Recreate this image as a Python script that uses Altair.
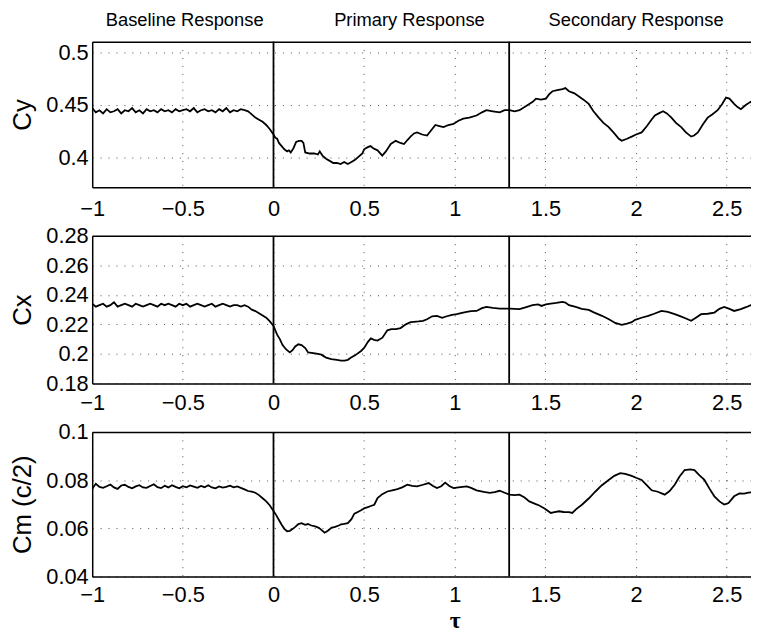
import altair as alt
import pandas as pd

# ---- data (tau, value) ----
cy_points = [
    (-1.00, 0.447), (-0.98, 0.443), (-0.96, 0.445), (-0.94, 0.442), (-0.92, 0.446), (-0.90, 0.443),
    (-0.88, 0.444), (-0.86, 0.446), (-0.84, 0.442), (-0.82, 0.445), (-0.80, 0.444), (-0.78, 0.447),
    (-0.76, 0.443), (-0.74, 0.445), (-0.72, 0.442), (-0.70, 0.446), (-0.68, 0.444), (-0.66, 0.445),
    (-0.64, 0.443), (-0.62, 0.446), (-0.60, 0.444), (-0.58, 0.445), (-0.56, 0.443), (-0.54, 0.446),
    (-0.52, 0.444), (-0.50, 0.445), (-0.48, 0.446), (-0.46, 0.444), (-0.44, 0.447), (-0.42, 0.443),
    (-0.40, 0.445), (-0.38, 0.446), (-0.36, 0.444), (-0.34, 0.445), (-0.32, 0.443), (-0.30, 0.446),
    (-0.28, 0.444), (-0.26, 0.447), (-0.24, 0.443), (-0.22, 0.445), (-0.20, 0.444), (-0.18, 0.446),
    (-0.16, 0.445), (-0.14, 0.444), (-0.12, 0.441), (-0.10, 0.438), (-0.08, 0.436), (-0.06, 0.434),
    (-0.04, 0.431), (-0.02, 0.427), (0.00, 0.422), (0.01, 0.419), (0.02, 0.418), (0.03, 0.414),
    (0.045, 0.411), (0.06, 0.408), (0.075, 0.406), (0.085, 0.407), (0.095, 0.405), (0.11, 0.409),
    (0.125, 0.415), (0.14, 0.416), (0.155, 0.416), (0.165, 0.414), (0.175, 0.405), (0.20, 0.404),
    (0.225, 0.404), (0.245, 0.403), (0.255, 0.406), (0.27, 0.402), (0.29, 0.399), (0.31, 0.397),
    (0.33, 0.395), (0.35, 0.395), (0.37, 0.394), (0.39, 0.396), (0.41, 0.394), (0.43, 0.396),
    (0.45, 0.398), (0.47, 0.401), (0.49, 0.404), (0.50, 0.408), (0.52, 0.410), (0.535, 0.411),
    (0.55, 0.409), (0.574, 0.407), (0.60, 0.402), (0.62, 0.406), (0.647, 0.413), (0.674, 0.416),
    (0.70, 0.414), (0.72, 0.413), (0.74, 0.417), (0.756, 0.420), (0.775, 0.423), (0.792, 0.424),
    (0.82, 0.422), (0.847, 0.421), (0.87, 0.426), (0.893, 0.431), (0.915, 0.430), (0.938, 0.429),
    (0.965, 0.431), (0.993, 0.432), (1.02, 0.435), (1.047, 0.437), (1.08, 0.438), (1.12, 0.440),
    (1.15, 0.443), (1.175, 0.445), (1.21, 0.444), (1.248, 0.443), (1.275, 0.445), (1.302, 0.445),
    (1.33, 0.444), (1.357, 0.445), (1.385, 0.448), (1.411, 0.451), (1.43, 0.453), (1.448, 0.456),
    (1.475, 0.455), (1.503, 0.456), (1.52, 0.460), (1.539, 0.463), (1.565, 0.464), (1.594, 0.465),
    (1.61, 0.466), (1.63, 0.463), (1.66, 0.461), (1.685, 0.458), (1.71, 0.455), (1.739, 0.451),
    (1.765, 0.444), (1.794, 0.438), (1.82, 0.433), (1.849, 0.429), (1.88, 0.423), (1.905, 0.418),
    (1.921, 0.416), (1.95, 0.418), (1.976, 0.420), (2.00, 0.422), (2.031, 0.424), (2.06, 0.430),
    (2.085, 0.436), (2.104, 0.440), (2.125, 0.442), (2.149, 0.444), (2.17, 0.442), (2.195, 0.438),
    (2.22, 0.433), (2.249, 0.429), (2.275, 0.424), (2.304, 0.420), (2.32, 0.421), (2.341, 0.424),
    (2.37, 0.432), (2.395, 0.438), (2.42, 0.441), (2.45, 0.445), (2.475, 0.451), (2.496, 0.457),
    (2.515, 0.456), (2.541, 0.451), (2.56, 0.448), (2.578, 0.446), (2.605, 0.450), (2.632, 0.453),
    (2.645, 0.451),
]

cx_points = [
    (-1.00, 0.234), (-0.98, 0.232), (-0.96, 0.233), (-0.94, 0.234), (-0.92, 0.232), (-0.90, 0.233),
    (-0.88, 0.235), (-0.86, 0.232), (-0.84, 0.233), (-0.82, 0.234), (-0.80, 0.233), (-0.78, 0.232),
    (-0.76, 0.234), (-0.74, 0.233), (-0.72, 0.232), (-0.70, 0.233), (-0.68, 0.234), (-0.66, 0.233),
    (-0.64, 0.232), (-0.62, 0.234), (-0.60, 0.233), (-0.58, 0.234), (-0.56, 0.233), (-0.54, 0.232),
    (-0.52, 0.234), (-0.50, 0.233), (-0.48, 0.234), (-0.46, 0.232), (-0.44, 0.233), (-0.42, 0.234),
    (-0.40, 0.233), (-0.38, 0.232), (-0.36, 0.233), (-0.34, 0.234), (-0.32, 0.232), (-0.30, 0.233),
    (-0.28, 0.234), (-0.26, 0.233), (-0.24, 0.232), (-0.22, 0.233), (-0.20, 0.233), (-0.18, 0.232),
    (-0.16, 0.233), (-0.14, 0.232), (-0.12, 0.230), (-0.10, 0.229), (-0.08, 0.2275), (-0.06, 0.226),
    (-0.04, 0.2245), (-0.02, 0.222), (0.00, 0.219), (0.01, 0.216), (0.02, 0.213), (0.035, 0.210),
    (0.05, 0.206), (0.07, 0.203), (0.09, 0.201), (0.105, 0.2025), (0.12, 0.205), (0.137, 0.2065),
    (0.155, 0.206), (0.175, 0.204), (0.191, 0.201), (0.22, 0.2005), (0.245, 0.200), (0.264, 0.1995),
    (0.29, 0.1975), (0.319, 0.1965), (0.35, 0.196), (0.372, 0.1955), (0.392, 0.1955), (0.41, 0.196),
    (0.428, 0.1975), (0.45, 0.199), (0.483, 0.202), (0.50, 0.204), (0.52, 0.208), (0.537, 0.2105),
    (0.555, 0.2095), (0.574, 0.209), (0.601, 0.211), (0.628, 0.216), (0.65, 0.2168), (0.675, 0.2168),
    (0.701, 0.2175), (0.73, 0.220), (0.756, 0.2215), (0.774, 0.2217), (0.80, 0.222), (0.825, 0.2224),
    (0.847, 0.2235), (0.875, 0.2255), (0.902, 0.2258), (0.93, 0.2245), (0.956, 0.2255), (0.985, 0.2265),
    (1.011, 0.2269), (1.04, 0.2278), (1.066, 0.2285), (1.09, 0.229), (1.12, 0.2291), (1.15, 0.231),
    (1.175, 0.2318), (1.21, 0.2312), (1.248, 0.2307), (1.275, 0.2307), (1.302, 0.2307), (1.33, 0.2305),
    (1.357, 0.2303), (1.39, 0.2315), (1.429, 0.233), (1.46, 0.2335), (1.478, 0.2325), (1.503, 0.2336),
    (1.53, 0.234), (1.56, 0.2345), (1.594, 0.2352), (1.61, 0.2348), (1.63, 0.233), (1.667, 0.2318),
    (1.70, 0.2305), (1.739, 0.2298), (1.77, 0.228), (1.812, 0.2258), (1.85, 0.2235), (1.885, 0.221),
    (1.921, 0.2197), (1.95, 0.2205), (1.976, 0.2215), (1.995, 0.2231), (2.03, 0.2245), (2.067, 0.2258),
    (2.10, 0.2272), (2.14, 0.2291), (2.175, 0.2285), (2.213, 0.2269), (2.25, 0.2252), (2.285, 0.2235),
    (2.304, 0.2224), (2.33, 0.2245), (2.359, 0.2269), (2.395, 0.2272), (2.432, 0.228), (2.46, 0.2305),
    (2.486, 0.2318), (2.515, 0.2305), (2.541, 0.2291), (2.578, 0.2303), (2.61, 0.2318), (2.632, 0.233),
    (2.645, 0.2325),
]

cm_points = [
    (-1.00, 0.0765), (-0.98, 0.0785), (-0.96, 0.0772), (-0.94, 0.0768), (-0.92, 0.0775), (-0.90, 0.0782),
    (-0.88, 0.0770), (-0.86, 0.0764), (-0.84, 0.0778), (-0.82, 0.0781), (-0.80, 0.0772), (-0.78, 0.0766),
    (-0.76, 0.0774), (-0.74, 0.0779), (-0.72, 0.0770), (-0.70, 0.0768), (-0.68, 0.0776), (-0.66, 0.0783),
    (-0.64, 0.0771), (-0.62, 0.0767), (-0.60, 0.0777), (-0.58, 0.0770), (-0.56, 0.0779), (-0.54, 0.0772),
    (-0.52, 0.0766), (-0.50, 0.0775), (-0.48, 0.0770), (-0.46, 0.0778), (-0.44, 0.0773), (-0.42, 0.0768),
    (-0.40, 0.0776), (-0.38, 0.0771), (-0.36, 0.0779), (-0.34, 0.0770), (-0.32, 0.0766), (-0.30, 0.0774),
    (-0.28, 0.0769), (-0.26, 0.0772), (-0.24, 0.0777), (-0.22, 0.0770), (-0.20, 0.0774), (-0.18, 0.0768),
    (-0.16, 0.0762), (-0.14, 0.0755), (-0.12, 0.0752), (-0.10, 0.0748), (-0.08, 0.0738), (-0.06, 0.0725),
    (-0.04, 0.0712), (-0.02, 0.0695), (0.00, 0.0672), (0.015, 0.0655), (0.03, 0.0635), (0.045, 0.0615),
    (0.06, 0.0598), (0.075, 0.0588), (0.09, 0.0590), (0.105, 0.0597), (0.12, 0.0606), (0.137, 0.0618),
    (0.155, 0.0622), (0.175, 0.0615), (0.19, 0.0618), (0.209, 0.0612), (0.23, 0.0608), (0.25, 0.0602),
    (0.264, 0.0594), (0.282, 0.0582), (0.30, 0.0590), (0.319, 0.0602), (0.34, 0.0606), (0.36, 0.0612),
    (0.373, 0.0617), (0.39, 0.0619), (0.41, 0.0622), (0.43, 0.0638), (0.446, 0.0661), (0.465, 0.0668),
    (0.483, 0.0675), (0.50, 0.0683), (0.52, 0.0688), (0.537, 0.0693), (0.556, 0.0698), (0.574, 0.0726),
    (0.60, 0.0742), (0.628, 0.0753), (0.655, 0.0758), (0.683, 0.0763), (0.71, 0.0770), (0.738, 0.0781),
    (0.765, 0.0776), (0.792, 0.0774), (0.82, 0.0780), (0.856, 0.0788), (0.88, 0.0776), (0.902, 0.0767),
    (0.925, 0.0775), (0.947, 0.0790), (0.97, 0.0776), (0.993, 0.0767), (1.02, 0.0770), (1.066, 0.0774),
    (1.09, 0.0768), (1.12, 0.0758), (1.16, 0.0751), (1.193, 0.0747), (1.22, 0.0750), (1.248, 0.0756),
    (1.275, 0.0748), (1.302, 0.0740), (1.33, 0.0738), (1.357, 0.0740), (1.385, 0.0728), (1.411, 0.0712),
    (1.44, 0.0703), (1.466, 0.0695), (1.49, 0.0685), (1.503, 0.0678), (1.53, 0.0664), (1.55, 0.0667),
    (1.575, 0.0671), (1.60, 0.0668), (1.63, 0.0667), (1.648, 0.0664), (1.67, 0.0680), (1.703, 0.0699),
    (1.74, 0.0725), (1.776, 0.0753), (1.81, 0.0778), (1.849, 0.0801), (1.88, 0.0818), (1.913, 0.0829),
    (1.94, 0.0826), (1.976, 0.0818), (2.00, 0.0810), (2.031, 0.0801), (2.06, 0.0778), (2.086, 0.0758),
    (2.12, 0.0752), (2.158, 0.0740), (2.185, 0.0755), (2.213, 0.0781), (2.24, 0.0815), (2.268, 0.0842),
    (2.30, 0.0845), (2.322, 0.0842), (2.35, 0.0820), (2.377, 0.0801), (2.405, 0.0765), (2.432, 0.0733),
    (2.46, 0.0712), (2.486, 0.0699), (2.51, 0.0705), (2.541, 0.0733), (2.57, 0.0745), (2.596, 0.0744),
    (2.62, 0.0748), (2.645, 0.0750),
]

x_ticks = [-1, -0.5, 0, 0.5, 1, 1.5, 2, 2.5]
cy_ticks = [0.4, 0.45, 0.5]
cx_ticks = [0.18, 0.2, 0.22, 0.24, 0.26, 0.28]
cm_ticks = [0.04, 0.06, 0.08, 0.1]
boundaries = [0, 1.3]
region_names = ["Baseline Response", "Primary Response", "Secondary Response"]
region_centers = [-0.49, 0.75, 2.0]

X_DOMAIN = [-1, 2.634]
W = 665
FONT = "Liberation Sans"


def panel(points, ytitle, ydomain, yticks, h, xpad, xtitle=None, top=False):
    df = pd.DataFrame(points, columns=["t", "v"])
    xs = alt.Scale(domain=X_DOMAIN, nice=False, zero=False)
    xaxis_kw = dict(values=x_ticks, format="~g", grid=True, labelFlush=False,
                    labelPadding=xpad, title=None)
    if xtitle:
        xaxis_kw.update(title=xtitle, titleX=366, titleFont="Liberation Serif",
                        titleFontSize=24, titleFontWeight="bold", titlePadding=3)
    line = alt.Chart(df).mark_line(color="black", strokeWidth=1.8, clip=True).encode(
        x=alt.X("t:Q", scale=xs, axis=alt.Axis(**xaxis_kw)),
        y=alt.Y("v:Q", scale=alt.Scale(domain=ydomain, nice=False, zero=False),
                axis=alt.Axis(values=yticks, format="~g", title=ytitle, grid=True,
                              labelFlush=False)),
    )
    rules = alt.Chart(pd.DataFrame({"t": boundaries})).mark_rule(
        color="black", strokeWidth=1.8).encode(
        x=alt.X("t:Q", scale=xs,
                axis=alt.Axis(orient="top", labels=False, ticks=False, grid=False,
                              domain=True, title=None)))
    layers = [line, rules]
    if top:
        txt = alt.Chart(pd.DataFrame({"t": region_centers, "name": region_names})).mark_text(
            font=FONT, fontSize=18.5, baseline="alphabetic", color="black").encode(
            x=alt.X("t:Q", scale=xs, axis=None),
            y=alt.value(-16),
            text="name:N")
        layers.append(txt)
    return alt.layer(*layers).resolve_axis(x="independent").properties(width=W, height=h)


p1 = panel(cy_points, "Cy", [0.372, 0.51], cy_ticks, 147, 12, top=True)
p2 = panel(cx_points, "Cx", [0.18, 0.28], cx_ticks, 149, 9)
p3 = panel(cm_points, "Cm (c/2)", [0.04, 0.1], cm_ticks, 146, 8, xtitle="τ")

chart = alt.vconcat(p1, p2, p3, spacing=49, bounds="flush").properties(
    padding={"left": 2, "top": 0, "right": 0, "bottom": 0}
).configure_view(stroke=None).configure_axis(
    domainColor="black", domainWidth=1.5, labelFont=FONT, labelFontSize=22,
    labelColor="black", titleFont=FONT, titleFontSize=26, titleFontWeight="normal",
    titleColor="black", gridColor="#222222", gridDash=[1, 7], gridOpacity=0.8,
    ticks=False, labelOverlap=False,
).configure_axisY(labelPadding=4, titlePadding=10)

chart.save("out.html", embed_options={"renderer": "svg", "actions": False})
